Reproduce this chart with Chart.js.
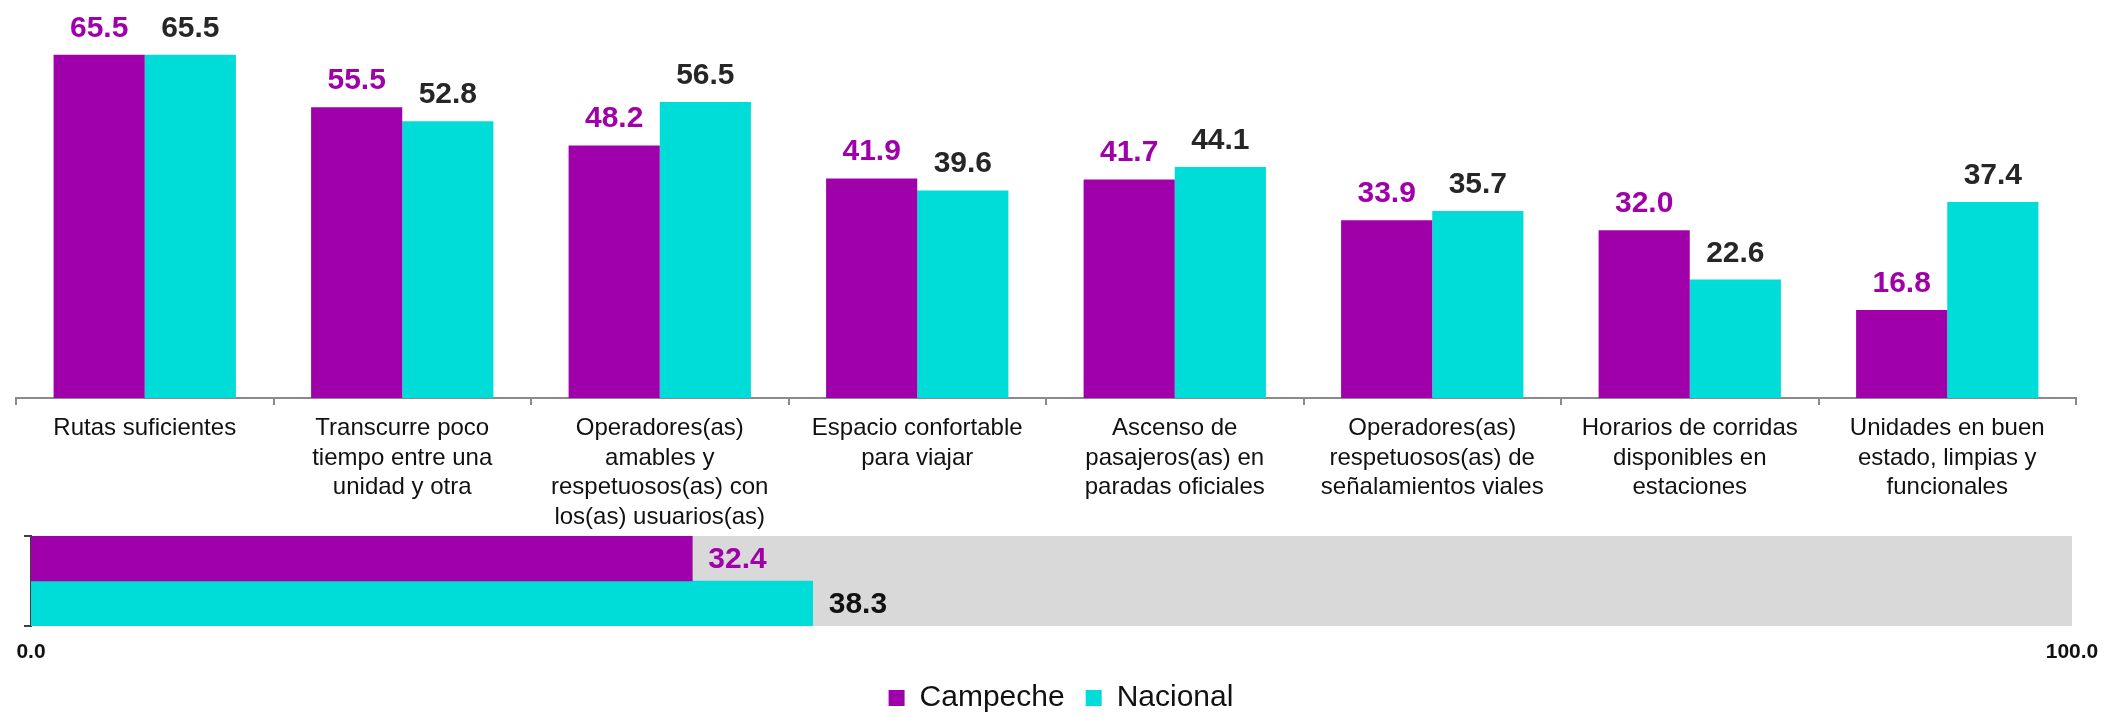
<!DOCTYPE html>
<html>
<head>
<meta charset="utf-8">
<script src="https://cdn.jsdelivr.net/npm/chart.js@4/dist/chart.umd.min.js"></script>
<style>
    html, body { margin: 0; padding: 0; background: #fff; overflow: hidden; }
    #topWrap { position: absolute; left: 0; top: 0; width: 2128px; height: 536px; }
    #bottomWrap { position: absolute; left: 0; top: 530px; width: 2128px; height: 193px; }
</style>
</head>
<body>
<div id="topWrap"><canvas id="graphAspects" width="2128" height="536"></canvas></div>
<div id="bottomWrap"><canvas id="graphGeneral" width="2128" height="193"></canvas></div>
<script>
const categories = [
    ['Rutas suficientes'],
    ['Transcurre poco', 'tiempo entre una', 'unidad y otra'],
    ['Operadores(as)', 'amables y', 'respetuosos(as) con', 'los(as) usuarios(as)'],
    ['Espacio confortable', 'para viajar'],
    ['Ascenso de', 'pasajeros(as) en', 'paradas oficiales'],
    ['Operadores(as)', 'respetuosos(as) de', 'señalamientos viales'],
    ['Horarios de corridas', 'disponibles en', 'estaciones'],
    ['Unidades en buen', 'estado, limpias y', 'funcionales']
];
const campeche = [65.5, 55.5, 48.2, 41.9, 41.7, 33.9, 32.0, 16.8];
const nacional = [65.5, 52.8, 56.5, 39.6, 44.1, 35.7, 22.6, 37.4];

const generalLabels = [''];
const campecheGeneral = [32.4];
const nacionalGeneral = [38.3];
const scaleFull = [100];
const scaleTicks = [0, 100];

const PURPLE = '#A000AA';
const CYAN = '#00DCD7';
const FONT = "'Liberation Sans', Arial, sans-serif";

Chart.defaults.font.family = FONT;

// draws the number above / beside each bar
const valueLabels = {
    id: 'valueLabels',
    afterDatasetsDraw(chart) {
        const ctx = chart.ctx;
        const horizontal = chart.options.indexAxis === 'y';
        chart.data.datasets.forEach((ds, i) => {
            if (!ds.valueColor) return;
            chart.getDatasetMeta(i).data.forEach((bar, j) => {
                ctx.save();
                ctx.font = 'bold 30px ' + FONT;
                ctx.fillStyle = ds.valueColor;
                const text = ds.data[j].toFixed(1);
                if (horizontal) {
                    ctx.textAlign = 'left';
                    ctx.textBaseline = 'middle';
                    ctx.fillText(text, bar.x + 16, bar.y + 1);
                } else {
                    ctx.textAlign = 'center';
                    ctx.textBaseline = 'alphabetic';
                    ctx.fillText(text, bar.x, bar.y - 18);
                }
                ctx.restore();
            });
        });
    }
};

// legend sits a little right of the centre in the original
const legendShift = {
    id: 'legendShift',
    afterLayout(chart) {
        if (chart.legend) {
            chart.legend.left += 13;
            chart.legend.right += 13;
        }
    }
};

new Chart(document.getElementById('graphAspects'), {
    type: 'bar',
    data: {
        labels: categories,
        datasets: [
            { label: 'Campeche', data: campeche, backgroundColor: PURPLE, valueColor: PURPLE },
            { label: 'Nacional', data: nacional, backgroundColor: CYAN, valueColor: '#262626' }
        ]
    },
    options: {
        responsive: false,
        animation: false,
        layout: { padding: { left: 16, right: 52, top: 5, bottom: 0 } },
        datasets: { bar: { categoryPercentage: 0.708, barPercentage: 1 } },
        plugins: { legend: { display: false }, tooltip: { enabled: false } },
        scales: {
            x: {
                grid: { drawOnChartArea: false, tickLength: 7, color: '#8a8a8a', lineWidth: 2 },
                border: { color: '#8a8a8a', width: 2 },
                afterFit: scale => { scale.height = 138; },
                ticks: {
                    color: '#111',
                    font: { size: 24, lineHeight: '29.5px' },
                    padding: 9,
                    maxRotation: 0,
                    autoSkip: false
                }
            },
            y: { display: false, min: 0, max: 75 }
        }
    },
    plugins: [valueLabels]
});

new Chart(document.getElementById('graphGeneral'), {
    type: 'bar',
    data: {
        labels: generalLabels,
        datasets: [
            { label: 'Campeche', data: campecheGeneral, backgroundColor: PURPLE, valueColor: PURPLE },
            { label: 'Nacional', data: nacionalGeneral, backgroundColor: CYAN, valueColor: '#111' },
            { label: 'Escala', data: scaleFull, backgroundColor: '#D9D9D9', grouped: false, order: 1 }
        ]
    },
    options: {
        indexAxis: 'y',
        responsive: false,
        animation: false,
        layout: { padding: { left: 24, right: 56, top: 6, bottom: 0 } },
        datasets: { bar: { categoryPercentage: 1, barPercentage: 1 } },
        plugins: {
            tooltip: { enabled: false },
            legend: {
                position: 'bottom',
                labels: {
                    boxWidth: 16,
                    boxHeight: 16,
                    padding: 21,
                    color: '#111',
                    font: { size: 30 },
                    filter: item => item.datasetIndex < 2
                }
            }
        },
        scales: {
            x: {
                min: scaleTicks[0],
                max: scaleTicks[1],
                grid: { display: false, drawTicks: false },
                border: { display: false },
                afterBuildTicks: scale => { scale.ticks = scaleTicks.map(v => ({ value: v })); },
                afterFit: scale => { scale.height = 36; },
                ticks: {
                    callback: v => Number(v).toFixed(1),
                    color: '#111',
                    font: { size: 21, weight: 'bold' },
                    padding: 14,
                    maxRotation: 0
                }
            },
            y: {
                grid: { drawOnChartArea: false, tickLength: 7, color: '#404040', lineWidth: 2 },
                border: { color: '#404040', width: 2 },
                ticks: { display: false }
            }
        }
    },
    plugins: [valueLabels, legendShift]
});
</script>
</body>
</html>
